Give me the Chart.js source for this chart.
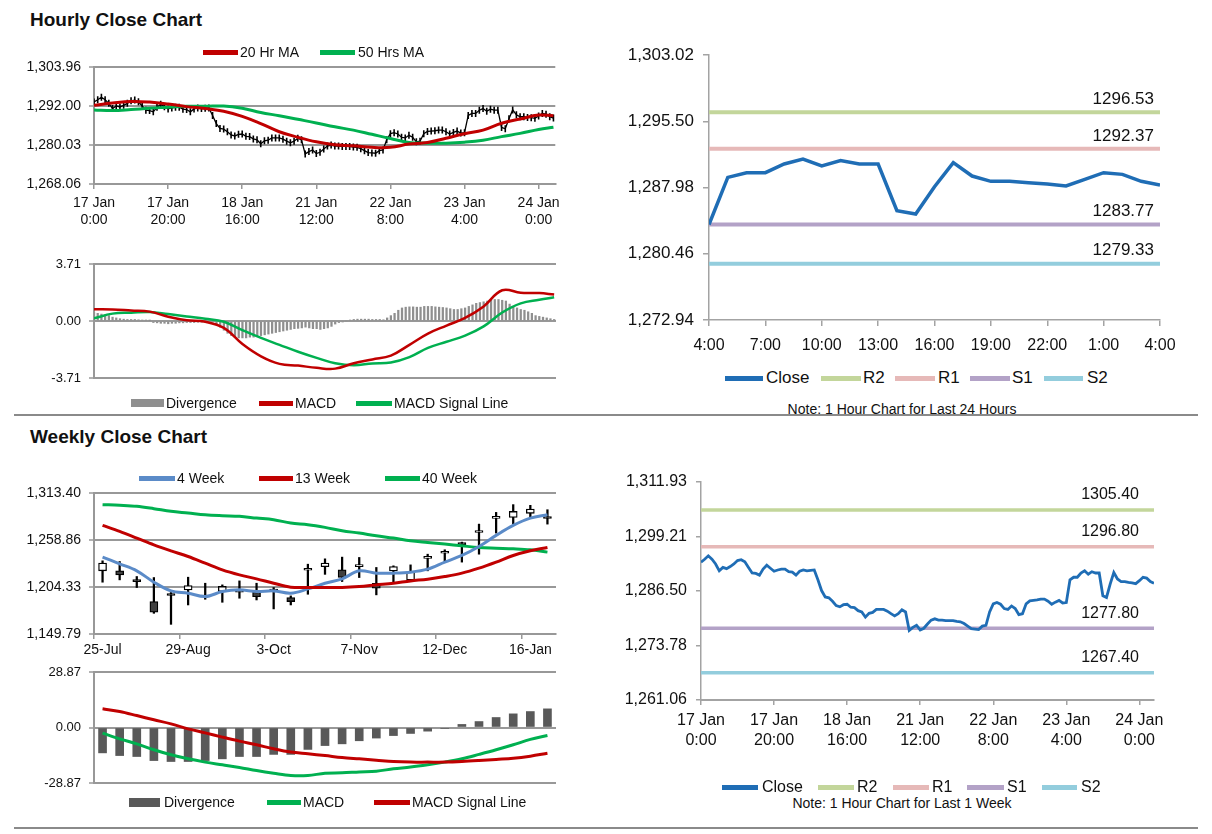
<!DOCTYPE html>
<html>
<head>
<meta charset="utf-8">
<title>Hourly and Weekly Close Charts</title>
<script src="https://cdn.jsdelivr.net/npm/chart.js@4.4.1/dist/chart.umd.min.js"></script>
<style>
  body { margin: 0; background: #fff; }
  #page { position: relative; width: 1212px; height: 834px; font-family: "Liberation Sans", Arial, sans-serif; color: #111; overflow: hidden; }
  #page canvas { position: absolute; }
  .title { position: absolute; left: 30px; font-weight: bold; font-size: 19px; transform: translateY(-50%); }
  .rule { position: absolute; left: 14px; width: 1184px; height: 2px; background: #8a8a8a; }
  .lg { position: absolute; white-space: nowrap; transform: translateY(-50%); }
  .sw { position: absolute; }
  .note { position: absolute; white-space: nowrap; transform: translate(-50%, -50%); font-size: 14px; }
</style>
</head>
<body>
<div id="page">
  <div class="title" style="top:20px">Hourly Close Chart</div>
  <div class="title" style="top:437px">Weekly Close Chart</div>
  <div class="rule" style="top:414px"></div>
  <div class="rule" style="top:827px"></div>
  <div class="note" style="left:902px;top:409px">Note: 1 Hour Chart for Last 24 Hours</div>
  <div class="note" style="left:902px;top:803px">Note: 1 Hour Chart for Last 1 Week</div>
</div>
<script>
// ---- hourly data, last week (17 Jan 0:00 .. 24 Jan 4:00) ----
const hourTickLabels = [['17 Jan', '0:00'], ['17 Jan', '20:00'], ['18 Jan', '16:00'], ['21 Jan', '12:00'],
                        ['22 Jan', '8:00'], ['23 Jan', '4:00'], ['24 Jan', '0:00']];
const hourlyClose = [
  1293.2, 1293.9, 1294.7, 1293.9, 1292.8, 1291.2, 1292.0, 1291.7, 1292.2, 1292.8,
  1293.6, 1293.8, 1293.3, 1292.0, 1290.7, 1290.6, 1290.2, 1291.6, 1292.5, 1291.8,
  1291.1, 1291.4, 1291.6, 1291.6, 1291.0, 1290.9, 1290.2, 1291.1, 1291.4, 1291.2,
  1291.3, 1291.4, 1289.1, 1286.6, 1285.1, 1284.9, 1284.1, 1283.1, 1282.8, 1283.3,
  1283.4, 1282.7, 1282.6, 1281.9, 1281.6, 1280.4, 1281.3, 1281.5, 1282.2, 1282.2,
  1282.2, 1281.8, 1281.2, 1280.7, 1281.2, 1282.1, 1281.6, 1277.3, 1278.0, 1278.5,
  1277.4, 1277.8, 1278.8, 1279.7, 1280.0, 1279.7, 1279.7, 1279.6, 1279.6, 1279.6,
  1279.4, 1279.3, 1278.9, 1278.3, 1277.7, 1277.6, 1277.5, 1278.3, 1278.5, 1281.6,
  1283.5, 1283.8, 1283.4, 1282.4, 1282.2, 1283.0, 1282.4, 1281.0, 1281.2, 1283.5,
  1284.2, 1284.3, 1284.4, 1284.6, 1284.6, 1284.1, 1283.4, 1283.9, 1284.3, 1283.7,
  1283.8, 1289.1, 1289.7, 1289.7, 1290.7, 1291.2, 1290.4, 1291.0, 1290.7, 1290.7,
  1285.4, 1285.0, 1288.1, 1290.8, 1289.3, 1288.7, 1288.7, 1288.5, 1288.4, 1288.2,
  1288.9, 1289.7, 1289.5, 1288.7, 1288.3
];
// moving averages and MACD read every 5 hours
const maHours = [0, 5, 10, 15, 20, 25, 30, 35, 40, 45, 50, 55, 60, 65, 70, 75, 80, 85, 90, 95, 100, 105, 110, 115, 120, 124];
const ma20 = [1292.2, 1292.9, 1293.4, 1293.2, 1292.6, 1291.8, 1291.2, 1290.4, 1288.8, 1286.6, 1284.1, 1282.4, 1281.0,
              1280.1, 1279.8, 1279.3, 1279.3, 1280.3, 1280.8, 1282.1, 1283.5, 1284.6, 1286.7, 1288.0, 1289.2, 1289.0];
const ma50 = [1290.8, 1290.6, 1290.9, 1291.3, 1291.6, 1291.9, 1291.9, 1292.0, 1291.3, 1290.0, 1289.0, 1287.9, 1286.8,
              1285.6, 1284.6, 1283.3, 1282.0, 1280.8, 1280.6, 1280.6, 1280.9, 1281.5, 1282.6, 1283.6, 1284.8, 1285.5];
const hourMacd = [0.76, 0.75, 0.68, 0.61, 0.28, 0.05, -0.05, -0.45, -1.50, -2.30, -2.79, -2.90, -3.05,
                  -3.10, -2.75, -2.50, -2.25, -1.55, -0.82, -0.30, 0.20, 0.95, 2.00, 1.84, 1.82, 1.72];
const hourSignal = [0.17, 0.48, 0.54, 0.59, 0.45, 0.30, 0.15, -0.05, -0.60, -1.10, -1.55, -2.00, -2.40,
                    -2.75, -2.88, -2.76, -2.70, -2.35, -1.75, -1.35, -0.95, -0.35, 0.55, 1.15, 1.38, 1.54];
const hourDivergence = [
  0.55, 0.5, 0.45, 0.4, 0.35, 0.25, 0.2, 0.15, 0.12, 0.1,
  0.1, 0.1, 0.08, 0.06, 0.05, 0.02, -0.1, -0.12, -0.15, -0.15,
  -0.18, -0.15, -0.15, -0.12, -0.12, -0.1, -0.1, -0.1, -0.08, -0.08,
  -0.08, -0.06, -0.05, -0.2, -0.4, -0.6, -0.8, -0.95, -1.05, -1.1,
  -1.1, -1.1, -1.05, -1.05, -1.0, -0.95, -0.9, -0.85, -0.8, -0.75,
  -0.7, -0.65, -0.6, -0.55, -0.5, -0.48, -0.45, -0.4, -0.45, -0.5,
  -0.5, -0.55, -0.5, -0.45, -0.35, -0.2, -0.1, -0.05, 0.0, 0.05,
  0.1, 0.12, 0.12, 0.12, 0.12, 0.1, 0.1, 0.1, 0.08, 0.2,
  0.35, 0.5, 0.7, 0.85, 0.9, 0.92, 0.92, 0.9, 0.9, 0.95,
  0.95, 0.95, 0.92, 0.9, 0.88, 0.85, 0.8, 0.75, 0.75, 0.8,
  0.85, 0.95, 1.05, 1.15, 1.2, 1.25, 1.3, 1.35, 1.4, 1.4,
  1.35, 1.3, 1.1, 0.95, 0.85, 0.75, 0.7, 0.6, 0.5, 0.35,
  0.3, 0.25, 0.2, 0.15, 0.1
];
const hourPriceTicks = [1268.06, 1280.03, 1292.00, 1303.96];
const hourMacdTicks = [-3.71, 0, 3.71];

// ---- last 24 hours ----
const dayLabels = ['4:00', '5:00', '6:00', '7:00', '8:00', '9:00', '10:00', '11:00', '12:00', '13:00', '14:00', '15:00',
                   '16:00', '17:00', '18:00', '19:00', '20:00', '21:00', '22:00', '23:00', '0:00', '1:00', '2:00', '3:00', '4:00'];
const dayClose = [1283.77, 1289.13, 1289.66, 1289.66, 1290.65, 1291.21, 1290.42, 1291.03, 1290.65, 1290.65, 1285.35, 1284.97,
                  1288.07, 1290.80, 1289.28, 1288.68, 1288.68, 1288.53, 1288.38, 1288.15, 1288.91, 1289.66, 1289.47, 1288.68, 1288.26];
const levelNames = ['R2', 'R1', 'S1', 'S2'];
const dayLevels = [1296.53, 1292.37, 1283.77, 1279.33];
const dayTicks = [1272.94, 1280.46, 1287.98, 1295.50, 1303.02];
const weekLevels = [1305.40, 1296.80, 1277.80, 1267.40];
const weekCloseTicks = [1261.06, 1273.78, 1286.50, 1299.21, 1311.93];

// ---- weekly data ----
const weekLabels = ['25-Jul', '1-Aug', '8-Aug', '15-Aug', '22-Aug', '29-Aug', '5-Sep', '12-Sep', '19-Sep', '26-Sep',
                    '3-Oct', '10-Oct', '17-Oct', '24-Oct', '31-Oct', '7-Nov', '14-Nov', '21-Nov', '28-Nov', '5-Dec',
                    '12-Dec', '19-Dec', '26-Dec', '2-Jan', '9-Jan', '16-Jan', '23-Jan'];
const weekOpen = [1223.1, 1223.1, 1212.8, 1187.4, 1196.8, 1201.0, 1195.0, 1199.0, 1200.4, 1198.3, 1202.0, 1192.0, 1223.8, 1228.0,
                  1224.2, 1228.0, 1208.7, 1223.0, 1212.6, 1237.6, 1243.6, 1256.0, 1267.6, 1284.0, 1285.1, 1289.8, 1286.0];
const weekHigh = [1234.7, 1233.9, 1216.5, 1215.3, 1198.0, 1215.7, 1208.7, 1206.8, 1211.4, 1208.7, 1203.7, 1194.0, 1230.8, 1237.0,
                  1239.0, 1238.6, 1227.0, 1228.9, 1230.0, 1242.4, 1247.5, 1256.4, 1277.3, 1290.9, 1299.9, 1299.1, 1294.0];
const weekLow = [1209.9, 1212.6, 1203.7, 1173.8, 1161.0, 1183.5, 1190.1, 1186.6, 1191.3, 1189.3, 1178.9, 1183.5, 1195.9, 1219.0,
                 1210.7, 1215.3, 1195.2, 1209.9, 1211.4, 1223.1, 1233.9, 1233.2, 1242.4, 1266.9, 1277.4, 1285.1, 1277.3];
const weekClose = [1232.0, 1218.4, 1210.6, 1175.0, 1194.6, 1206.0, 1192.8, 1205.0, 1198.2, 1193.0, 1199.8, 1187.4, 1226.0, 1232.0,
                   1215.3, 1230.2, 1202.9, 1228.0, 1222.0, 1239.8, 1245.8, 1253.0, 1269.8, 1286.2, 1292.0, 1294.8, 1283.8];
const week4 = [1239.0, 1231.2, 1223.1, 1209.9, 1199.8, 1197.1, 1193.2, 1199.0, 1201.0, 1199.0, 1199.8, 1197.1, 1202.1, 1208.7,
               1213.8, 1223.1, 1220.4, 1220.4, 1221.5, 1225.0, 1233.2, 1240.9, 1251.4, 1264.2, 1275.8, 1284.3, 1288.2];
const week13 = [1275.8, 1268.8, 1261.1, 1253.3, 1246.3, 1239.7, 1232.0, 1224.2, 1218.4, 1213.8, 1208.7, 1204.1, 1203.7, 1203.7,
                1203.7, 1204.8, 1206.8, 1208.7, 1211.4, 1213.4, 1216.5, 1220.4, 1226.2, 1233.2, 1240.9, 1246.3, 1250.2];
const week40 = [1299.9, 1299.1, 1297.9, 1295.2, 1292.1, 1290.2, 1288.2, 1287.1, 1286.3, 1284.3, 1282.4, 1278.5, 1276.6, 1273.5,
                1269.6, 1266.9, 1263.8, 1261.1, 1258.0, 1256.0, 1254.1, 1252.1, 1250.2, 1249.4, 1248.7, 1247.5, 1244.8];
const weekMacd = [-2.9, -5.9, -8.5, -11.6, -14.2, -16.3, -18.0, -19.4, -20.8, -22.4, -23.8, -25.0, -25.0, -23.8,
                  -23.6, -23.1, -22.7, -21.5, -20.6, -19.4, -18.0, -16.3, -14.0, -11.6, -9.0, -6.2, -4.2];
const weekSignal = [9.7, 8.3, 6.2, 4.0, 1.9, -0.7, -2.8, -5.0, -7.1, -9.0, -11.1, -12.8, -13.7, -14.6,
                    -15.6, -16.3, -17.0, -17.7, -18.0, -18.0, -18.0, -17.7, -17.2, -16.6, -16.0, -14.9, -13.4];
const weekDivergence = [-13.2, -14.6, -15.1, -17.2, -17.7, -17.7, -17.2, -16.3, -15.1, -15.1, -14.0, -14.0, -11.4, -9.4,
                        -8.5, -6.9, -5.5, -4.2, -3.1, -1.9, -0.5, 1.6, 3.1, 5.2, 7.1, 8.3, 9.7];
const weekPriceTicks = [1149.79, 1204.33, 1258.86, 1313.40];
const weekMacdTicks = [-28.87, 0, 28.87];

// ---- styling ----
const RED = '#c00000', GREEN = '#00b050', BLUE = '#1f6db5', BLUE4 = '#5b8bc8';
const GRID = '#989898', AXIS = '#a3a3a3';
const levelColors = ['#c3d69b', '#e6b9b8', '#b3a2c7', '#93cddd'];
const PAD = 22; // room above/below plot for the end tick labels

Chart.defaults.font.family = '"Liberation Sans", Arial, sans-serif';
Chart.defaults.color = '#111';
Chart.defaults.animation = false;
Chart.defaults.responsive = false;
Chart.defaults.plugins.legend.display = false;
Chart.defaults.plugins.tooltip.enabled = false;

const page = document.getElementById('page');
const fmt = v => Number(v).toLocaleString('en-US', { minimumFractionDigits: 2, maximumFractionDigits: 2 });

function canvasAt(left, top, w, h) {
  const c = document.createElement('canvas');
  c.width = w; c.height = h;
  c.style.left = left + 'px'; c.style.top = top + 'px';
  c.style.width = w + 'px'; c.style.height = h + 'px';
  page.appendChild(c);
  return c;
}

function yScale(ticks, o) {
  return {
    min: ticks[0], max: ticks[ticks.length - 1],
    afterBuildTicks: s => { s.ticks = ticks.map(v => ({ value: v })); },
    afterFit: s => { s.width = o.width; },
    ticks: { font: { size: o.size }, padding: o.pad, callback: v => fmt(v) },
    grid: { color: o.color || GRID, lineWidth: o.lw || 2, drawOnChartArea: o.grid !== false,
            tickLength: o.tick || 5, tickColor: o.color || GRID, tickWidth: 1.5 },
    border: { color: o.color || GRID, width: o.lw || 2 }
  };
}

function hourX(max, size, height, pad, lh, color) {
  return {
    type: 'linear', min: 0, max, offset: false,
    ticks: { stepSize: 20, includeBounds: false, autoSkip: false, maxRotation: 0,
             font: { size, lineHeight: lh }, padding: pad, callback: v => hourTickLabels[v / 20] },
    grid: { drawOnChartArea: false, offset: false, tickLength: 5, color, lineWidth: 1.5 },
    border: { color, width: 2 },
    afterFit: s => { s.height = height; }
  };
}

function line(label, data, color, width, extra) {
  return Object.assign({ type: 'line', label, data, borderColor: color, backgroundColor: color,
                         borderWidth: width, pointRadius: 0, fill: false }, extra || {});
}

const levelLabels = {
  id: 'levelLabels',
  afterDatasetsDraw(chart, args, opts) {
    const { ctx, chartArea, scales: { y } } = chart;
    ctx.save();
    ctx.font = opts.size + 'px "Liberation Sans", Arial, sans-serif';
    ctx.fillStyle = '#111';
    ctx.textAlign = 'right';
    ctx.textBaseline = 'middle';
    opts.levels.forEach(v => ctx.fillText(v.toFixed(2), chartArea.right - opts.inset, y.getPixelForValue(v) - opts.dy));
    ctx.restore();
  }
};

// hourly price with moving averages (plot 94-556 x 67-184)
new Chart(canvasAt(14, 67 - PAD, 552, 184 + 50 - 67 + PAD), {
  type: 'line',
  data: { datasets: [
    line('20 Hr MA', maHours.map((h, i) => ({ x: h, y: ma20[i] })), RED, 3, { tension: 0.4, order: 0 }),
    line('50 Hrs MA', maHours.map((h, i) => ({ x: h, y: ma50[i] })), GREEN, 3, { tension: 0.4, order: 1 }),
    { type: 'line', label: 'Price', data: hourlyClose.map((v, i) => ({ x: i, y: v })), borderWidth: 1.3,
      pointStyle: 'line', pointRotation: 90, pointRadius: 3.5, pointBorderWidth: 1.6,
      pointBorderColor: '#000', borderColor: '#000', order: 2 }
  ] },
  options: {
    layout: { padding: { top: PAD, right: 10 } },
    scales: { x: hourX(124.5, 14, 50, 6, 1.2, GRID), y: yScale(hourPriceTicks, { width: 80, size: 14, pad: 8 }) }
  }
});

// hourly MACD (plot 264-378)
new Chart(canvasAt(14, 264 - PAD, 552, 378 - 264 + 2 * PAD), {
  type: 'line',
  data: { datasets: [
    { type: 'bar', label: 'Divergence', data: hourDivergence.map((v, i) => ({ x: i, y: v })),
      backgroundColor: '#8f8f8f', barThickness: 1.6, order: 2 },
    line('MACD', maHours.map((h, i) => ({ x: h, y: hourMacd[i] })), RED, 2.5, { tension: 0.4, order: 0 }),
    line('MACD Signal Line', maHours.map((h, i) => ({ x: h, y: hourSignal[i] })), GREEN, 2.5, { tension: 0.4, order: 1 })
  ] },
  options: {
    layout: { padding: { top: PAD, bottom: PAD, right: 10 } },
    scales: {
      x: { type: 'linear', min: 0, max: 124.5, offset: false, display: false, grid: { offset: false } },
      y: yScale(hourMacdTicks, { width: 80, size: 13, pad: 8 })
    }
  }
});

// last 24 hours close with pivot levels (plot 709-1160 x 55-320)
new Chart(canvasAt(609, 55 - PAD, 583, 320 + 42 - 55 + PAD), {
  type: 'line',
  data: { datasets: [
    line('Close', dayClose.map((v, i) => ({ x: i, y: v })), BLUE, 3.5, { order: 0 }),
    ...levelNames.map((n, k) => line(n, [{ x: 0, y: dayLevels[k] }, { x: 24, y: dayLevels[k] }], levelColors[k], 4, { order: 1 }))
  ] },
  options: {
    layout: { padding: { top: PAD, right: 32 } },
    plugins: { levelLabels: { levels: dayLevels, size: 17, inset: 6, dy: 13 } },
    scales: {
      x: { type: 'linear', min: 0, max: 24, offset: false,
           ticks: { stepSize: 3, autoSkip: false, maxRotation: 0, font: { size: 16 }, padding: 10, callback: v => dayLabels[v] },
           grid: { drawOnChartArea: false, tickLength: 6, color: AXIS, lineWidth: 1.5 },
           border: { color: AXIS, width: 1.5 },
           afterFit: s => { s.height = 42; } },
      y: yScale(dayTicks, { width: 100, size: 17, pad: 9, grid: false, tick: 6, color: AXIS, lw: 1.5 })
    }
  },
  plugins: [levelLabels]
});

// weekly candles with moving averages (plot 493-634)
const weekX = {
  type: 'category', offset: true,
  ticks: { autoSkip: false, maxRotation: 0, font: { size: 14 }, padding: 3,
           callback: (v, i) => (i % 5 === 0 ? weekLabels[i] : '') },
  grid: { offset: true, drawOnChartArea: false, tickLength: 5, color: GRID, lineWidth: 1.5,
          tickColor: c => (c.index % 5 === 0 ? GRID : 'rgba(0,0,0,0)') },
  border: { color: GRID, width: 2 },
  afterFit: s => { s.height = 26; }
};
new Chart(canvasAt(14, 493 - PAD, 552, 634 + 26 - 493 + PAD), {
  type: 'bar',
  data: { labels: weekLabels, datasets: [
    { label: 'Range', data: weekLow.map((l, i) => [l, weekHigh[i]]), backgroundColor: '#000',
      barThickness: 1.6, grouped: false, order: 4 },
    { label: 'Body', data: weekOpen.map((o, i) => [o, weekClose[i]]),
      backgroundColor: weekOpen.map((o, i) => (weekClose[i] >= o ? '#ffffff' : '#404040')),
      borderColor: '#000', borderWidth: 1.3, borderSkipped: false, barThickness: 8, grouped: false, order: 3 },
    line('4 Week', week4, BLUE4, 3, { tension: 0.35, order: 1 }),
    line('13 Week', week13, RED, 3, { tension: 0.35, order: 0 }),
    line('40 Week', week40, GREEN, 3, { tension: 0.35, order: 2 })
  ] },
  options: {
    layout: { padding: { top: PAD, right: 10 } },
    scales: { x: weekX, y: yScale(weekPriceTicks, { width: 80, size: 14, pad: 8 }) }
  }
});

// weekly MACD (plot 672-783)
new Chart(canvasAt(14, 672 - PAD, 552, 783 - 672 + 2 * PAD), {
  type: 'bar',
  data: { labels: weekLabels, datasets: [
    { label: 'Divergence', data: weekDivergence, backgroundColor: '#595959', barThickness: 8, order: 2 },
    line('MACD', weekMacd, GREEN, 3, { tension: 0.35, order: 1 }),
    line('MACD Signal Line', weekSignal, RED, 3, { tension: 0.35, order: 0 })
  ] },
  options: {
    layout: { padding: { top: PAD, bottom: PAD, right: 10 } },
    scales: { x: { type: 'category', offset: true, display: false },
              y: yScale(weekMacdTicks, { width: 80, size: 13, pad: 8 }) }
  }
});

// last week hourly close with pivot levels (plot 701-1154 x 482-700)
new Chart(canvasAt(601, 482 - PAD, 585, 700 + 52 - 482 + PAD), {
  type: 'line',
  data: { datasets: [
    line('Close', hourlyClose.map((v, i) => ({ x: i, y: v })), BLUE, 2.8, { order: 0 }),
    ...levelNames.map((n, k) => line(n, [{ x: 0, y: weekLevels[k] }, { x: 124, y: weekLevels[k] }], levelColors[k], 3.5, { order: 1 }))
  ] },
  options: {
    layout: { padding: { top: PAD, right: 32 } },
    plugins: { levelLabels: { levels: weekLevels, size: 16, inset: 15, dy: 15 } },
    scales: {
      x: hourX(124, 16, 52, 6, 1.25, AXIS),
      y: yScale(weekCloseTicks, { width: 100, size: 16, pad: 9, grid: false, color: AXIS, lw: 1.5 })
    }
  },
  plugins: [levelLabels]
});

// legends
function legend(items, y, size) {
  items.forEach(it => {
    const h = it.h || 5;
    const sw = document.createElement('div');
    sw.className = 'sw';
    sw.style.cssText = `left:${it.x}px;top:${y - h / 2}px;width:${it.w}px;height:${h}px;background:${it.c}`;
    page.appendChild(sw);
    const t = document.createElement('div');
    t.className = 'lg';
    t.textContent = it.t;
    t.style.left = it.tx + 'px';
    t.style.top = y + 'px';
    t.style.fontSize = size + 'px';
    page.appendChild(t);
  });
}
legend([{ x: 203, w: 35, c: RED, t: '20 Hr MA', tx: 240 },
        { x: 320, w: 35, c: GREEN, t: '50 Hrs MA', tx: 358 }], 52, 14);
legend([{ x: 131, w: 33, h: 8, c: '#8f8f8f', t: 'Divergence', tx: 166 },
        { x: 259, w: 34, c: RED, t: 'MACD', tx: 295 },
        { x: 356, w: 36, c: GREEN, t: 'MACD Signal Line', tx: 394 }], 403, 14);
legend([{ x: 725, w: 38, c: BLUE, t: 'Close', tx: 766 },
        { x: 821, w: 40, c: levelColors[0], t: 'R2', tx: 863 },
        { x: 895, w: 40, c: levelColors[1], t: 'R1', tx: 938 },
        { x: 970, w: 40, c: levelColors[2], t: 'S1', tx: 1012 },
        { x: 1044, w: 39, c: levelColors[3], t: 'S2', tx: 1087 }], 378, 17);
legend([{ x: 139, w: 36, c: BLUE4, t: '4 Week', tx: 177 },
        { x: 259, w: 34, c: RED, t: '13 Week', tx: 295 },
        { x: 385, w: 35, c: GREEN, t: '40 Week', tx: 422 }], 478, 14);
legend([{ x: 129, w: 31, h: 9, c: '#595959', t: 'Divergence', tx: 164 },
        { x: 267, w: 34, c: GREEN, t: 'MACD', tx: 303 },
        { x: 374, w: 36, c: RED, t: 'MACD Signal Line', tx: 412 }], 802, 14);
legend([{ x: 722, w: 36, c: BLUE, t: 'Close', tx: 762 },
        { x: 818, w: 36, c: levelColors[0], t: 'R2', tx: 857 },
        { x: 893, w: 36, c: levelColors[1], t: 'R1', tx: 932 },
        { x: 967, w: 37, c: levelColors[2], t: 'S1', tx: 1007 },
        { x: 1042, w: 35, c: levelColors[3], t: 'S2', tx: 1081 }], 787, 16);
</script>
</body>
</html>
